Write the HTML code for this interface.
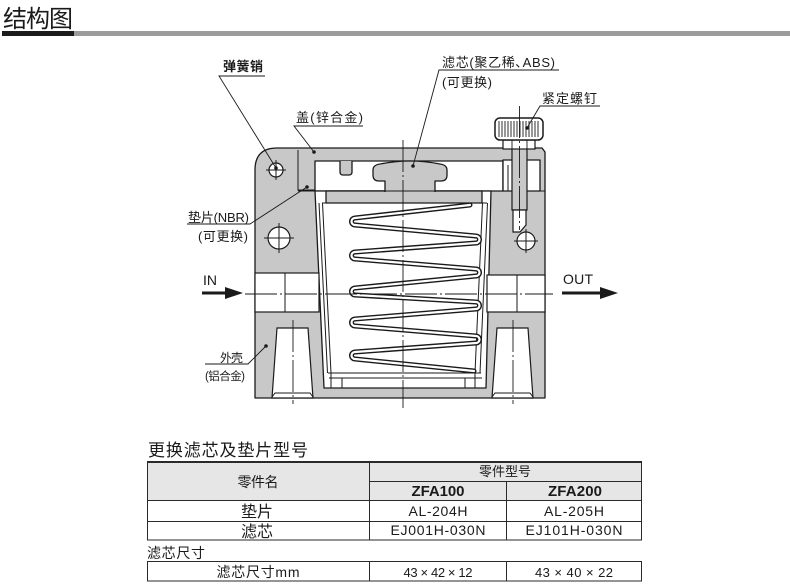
<!DOCTYPE html>
<html><head><meta charset="utf-8"><style>
html,body{margin:0;padding:0;background:#fff;}
svg{display:block;}
text{font-family:"Liberation Sans","Noto Sans CJK SC",sans-serif;fill:#1a1a1a;}
</style></head><body>
<svg width="790" height="585" viewBox="0 0 790 585" xmlns="http://www.w3.org/2000/svg">
<!-- title -->
<text x="3" y="27" font-size="24" textLength="70" lengthAdjust="spacing">结构图</text>
<rect x="2" y="31" width="72" height="5" fill="#1c1c1c"/>
<rect x="74" y="31" width="716" height="5" fill="#9c9c9c"/>

<!-- body -->
<g stroke="#1a1a1a" stroke-width="1.3" stroke-linejoin="round">
  <path d="M255,398 V170 Q255,148 277,148 H542 L545,152 V398 Z" fill="#c8c8c8"/>
  <rect x="315" y="161" width="188" height="30" fill="#fff"/>
  <path d="M340,161 V172 Q340,175 343,175 H349 Q352,175 352,172 V161" fill="#c8c8c8"/>
  <polygon points="315,191 491,191 486,388 324,388" fill="#fff"/>
  <rect x="326" y="191" width="156" height="12" fill="#c8c8c8"/>
  <path d="M385,192 V181 H379 Q373,181 373,175 V170 Q373,165 380,164 Q410,158 440,164 Q447,165 447,170 V175 Q447,181 441,181 H435 V192" fill="#c8c8c8"/>
  <rect x="503" y="160" width="37" height="31" fill="#fff"/>
</g>

<g stroke="#1a1a1a" stroke-width="1" fill="none">
  <path d="M298,150 V190 H315"/>
  <line x1="298" y1="191" x2="545" y2="191"/>
  <line x1="508" y1="165" x2="508" y2="191"/>
  <line x1="319" y1="203" x2="327.5" y2="373"/>
  <line x1="322.5" y1="203" x2="331" y2="373"/>
  <line x1="487.5" y1="203" x2="480" y2="373"/>
  <line x1="482.5" y1="203" x2="475" y2="373"/>
  <line x1="322" y1="203" x2="487" y2="203"/>
  <line x1="328" y1="373" x2="481" y2="373"/>
  <line x1="329" y1="378" x2="482" y2="378"/>
  <path d="M331,373 V388 M342,378 V388 M465,378 V388 M475,373 V388"/>
</g>

<!-- spring -->
<path d="M470,205 L355,218 A3.5,3.5 0 0 0 355,225 L476,236 A3.5,3.5 0 0 1 476,243 L355,252 A3.5,3.5 0 0 0 355,259 L476,269 A3.5,3.5 0 0 1 476,276 L355,288 A3.5,3.5 0 0 0 355,295 L476,302 A3.5,3.5 0 0 1 476,309 L355,319 A3.5,3.5 0 0 0 355,326 L476,336 A3.5,3.5 0 0 1 476,343 L355,352 A3.5,3.5 0 0 0 355,359 L474,371" fill="none" stroke="#1a1a1a" stroke-width="5" stroke-linecap="round" stroke-linejoin="round"/>
<path d="M470,205 L355,218 A3.5,3.5 0 0 0 355,225 L476,236 A3.5,3.5 0 0 1 476,243 L355,252 A3.5,3.5 0 0 0 355,259 L476,269 A3.5,3.5 0 0 1 476,276 L355,288 A3.5,3.5 0 0 0 355,295 L476,302 A3.5,3.5 0 0 1 476,309 L355,319 A3.5,3.5 0 0 0 355,326 L476,336 A3.5,3.5 0 0 1 476,343 L355,352 A3.5,3.5 0 0 0 355,359 L474,371" fill="none" stroke="#fff" stroke-width="2.2" stroke-linecap="round" stroke-linejoin="round"/>

<g stroke="#1a1a1a" stroke-width="1.2" fill="#fff">
  <rect x="255" y="273" width="64" height="39"/>
  <rect x="487" y="275" width="58" height="37"/>
  <polygon points="277,328 308,328 313,398 272,398"/>
  <polygon points="497,328 528,328 533,398 492,398"/>
  <circle cx="276" cy="170" r="7"/>
  <circle cx="279" cy="238" r="11"/>
  <circle cx="526" cy="241" r="9"/>
</g>
<g stroke="#1a1a1a" stroke-width="1" fill="none">
  <line x1="285" y1="273" x2="285" y2="312"/>
  <line x1="517" y1="275" x2="517" y2="312"/>
  <path d="M266,170 H286 M276,160 V180"/>
  <path d="M264,238 H294 M279,223 V253"/>
  <path d="M514,241 H538 M526,229 V253"/>
  <path d="M272,397 L275,393 H310 L313,397 M492,397 L495,393 H530 L533,397"/>
</g>

<!-- screw -->
<g stroke="#1a1a1a" stroke-width="1.2">
  <rect x="512" y="140" width="15" height="70" fill="#c8c8c8"/>
  <path d="M513,210 H526 V225 L520,232 H513 Z" fill="#fff"/>
  <rect x="503" y="140" width="32" height="9" fill="#fff"/>
  <rect x="495" y="118" width="48" height="22" rx="5" fill="#fff" stroke-width="1.5"/>
</g>
<g stroke="#1a1a1a" stroke-width="0.9">
  <path d="M499,121V137 M502,121V137 M505,121V137 M508,121V137 M511,121V137 M514,121V137 M517,121V137 M520,121V137 M523,121V137 M526,121V137 M529,121V137 M532,121V137 M535,121V137 M538,121V137"/>
  <path d="M512,140V149 M527,140V149"/>
</g>

<!-- center lines -->
<g stroke="#1a1a1a" stroke-width="0.9" fill="none" stroke-dasharray="32,3,2,3">
  <line x1="403" y1="140" x2="403" y2="408"/>
  <line x1="245" y1="294" x2="553" y2="294"/>
  <line x1="293" y1="320" x2="293" y2="404"/>
  <line x1="513" y1="320" x2="513" y2="404"/>
  <line x1="519.5" y1="106" x2="519.5" y2="230"/>
</g>

<!-- leaders -->
<g stroke="#1a1a1a" stroke-width="0.9" fill="none">
  <path d="M265,76 H219 L276,168"/>
  <path d="M363,126 H294 L314,152"/>
  <path d="M559,70 H439 L413,166"/>
  <path d="M600,106 H540 L527,128"/>
  <path d="M187,224 H250 L307,187"/>
  <path d="M205,364 H248 L266,346"/>
</g>
<g fill="#1a1a1a">
  <circle cx="276" cy="168" r="1.8"/>
  <circle cx="314" cy="152" r="1.8"/>
  <circle cx="413" cy="166" r="1.8"/>
  <circle cx="527" cy="128" r="1.8"/>
  <circle cx="307" cy="187" r="1.8"/>
  <circle cx="266" cy="346" r="1.8"/>
</g>

<!-- arrows -->
<line x1="202" y1="293" x2="230" y2="293" stroke="#1a1a1a" stroke-width="3"/>
<polygon points="225,287 243,293 225,299" fill="#1a1a1a"/>
<line x1="562" y1="293" x2="604" y2="293" stroke="#1a1a1a" stroke-width="3"/>
<polygon points="600,287 618,293 600,299" fill="#1a1a1a"/>
<text x="203" y="285" font-size="14" textLength="14" lengthAdjust="spacing">IN</text>
<text x="563" y="284" font-size="14" textLength="30" lengthAdjust="spacing">OUT</text>

<!-- labels -->
<g font-size="13">
  <text x="223" y="71" font-weight="bold" textLength="40" lengthAdjust="spacing">弹簧销</text>
  <text x="296" y="122" textLength="67" lengthAdjust="spacing">盖(锌合金)</text>
  <text x="442" y="67" textLength="113" lengthAdjust="spacing">滤芯(聚乙稀､ABS)</text>
  <text x="442" y="87" textLength="50" lengthAdjust="spacing">(可更换)</text>
  <text x="542" y="103" textLength="55" lengthAdjust="spacing">紧定螺钉</text>
  <text x="188" y="222" textLength="61" lengthAdjust="spacing">垫片(NBR)</text>
  <text x="198" y="241" textLength="50" lengthAdjust="spacing">(可更换)</text>
  <text x="220" y="362" font-size="12" textLength="23" lengthAdjust="spacing">外壳</text>
  <text x="205" y="380" font-size="11.5" textLength="40" lengthAdjust="spacing">(铝合金)</text>
</g>

<!-- table title -->
<text x="148" y="456" font-size="17" textLength="160" lengthAdjust="spacing">更换滤芯及垫片型号</text>

<!-- table 1 -->
<rect x="147" y="462" width="495" height="38" fill="#e6e6e6"/>
<g stroke="#2a2a2a" stroke-width="1" fill="none">
  <rect x="147.5" y="462.5" width="494" height="77.5"/>
  <line x1="369.5" y1="462" x2="369.5" y2="540"/>
  <line x1="506.5" y1="481" x2="506.5" y2="540"/>
  <line x1="369" y1="481.5" x2="642" y2="481.5"/>
  <line x1="147" y1="500.5" x2="642" y2="500.5"/>
  <line x1="147" y1="521.5" x2="642" y2="521.5"/>
</g>
<line x1="147" y1="462" x2="642" y2="462" stroke="#2a2a2a" stroke-width="2"/>

<g text-anchor="middle" font-size="14">
  <text x="258" y="487" fill="#444" textLength="41" lengthAdjust="spacing">零件名</text>
  <text x="505" y="476" font-size="13" fill="#444" textLength="52" lengthAdjust="spacing">零件型号</text>
  <text x="438" y="496" font-size="15" font-weight="bold" textLength="53" lengthAdjust="spacing">ZFA100</text>
  <text x="575" y="496" font-size="15" font-weight="bold" textLength="54" lengthAdjust="spacing">ZFA200</text>
  <text x="257" y="517" font-size="16">垫片</text>
  <text x="438" y="516" textLength="59" lengthAdjust="spacing">AL-204H</text>
  <text x="574" y="516" textLength="60" lengthAdjust="spacing">AL-205H</text>
  <text x="257" y="537" font-size="16">滤芯</text>
  <text x="438" y="535" textLength="95" lengthAdjust="spacing">EJ001H-030N</text>
  <text x="574" y="535" textLength="97" lengthAdjust="spacing">EJ101H-030N</text>
</g>

<text x="147" y="558" font-size="14" textLength="58" lengthAdjust="spacing">滤芯尺寸</text>

<!-- table 2 -->
<g stroke="#2a2a2a" stroke-width="1" fill="none">
  <rect x="147.5" y="561.5" width="494" height="19.5"/>
  <line x1="369.5" y1="561" x2="369.5" y2="581"/>
  <line x1="506.5" y1="561" x2="506.5" y2="581"/>
</g>
<g text-anchor="middle" font-size="14">
  <text x="258" y="577" textLength="83" lengthAdjust="spacing">滤芯尺寸mm</text>
  <text x="438" y="577" font-size="13" textLength="69" lengthAdjust="spacing">43 × 42 × 12</text>
  <text x="574" y="577" font-size="13" textLength="78" lengthAdjust="spacing">43 × 40 × 22</text>
</g>
</svg>
</body></html>
